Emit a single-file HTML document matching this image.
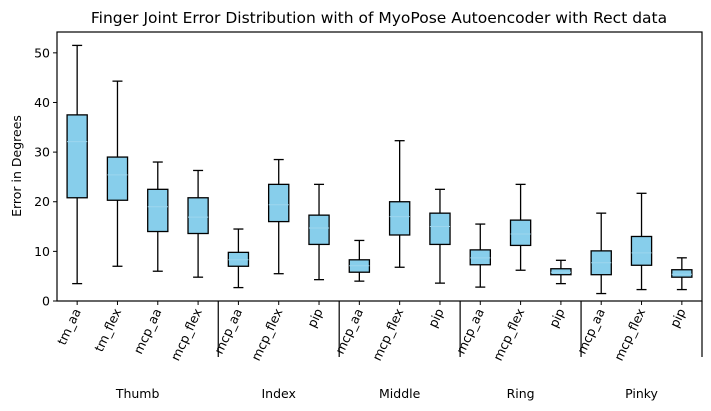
<!DOCTYPE html>
<html><head><meta charset="utf-8"><style>
body{margin:0;background:#fff;}
svg{display:block;font-family:"DejaVu Sans","Liberation Sans",sans-serif;}
</style></head><body>
<svg id="chart" width="711" height="411" viewBox="0 0 711 411"></svg>
<script>
const categories=["tm_aa","tm_flex","mcp_aa","mcp_flex","mcp_aa","mcp_flex","pip","mcp_aa","mcp_flex","pip","mcp_aa","mcp_flex","pip","mcp_aa","mcp_flex","pip"];
const whiskerLow=[3.5,7,6,4.8,2.7,5.5,4.3,4,6.8,3.6,2.8,6.2,3.5,1.5,2.3,2.3];
const q1=[20.8,20.3,14,13.6,7,16,11.4,5.8,13.3,11.4,7.3,11.2,5.3,5.3,7.2,4.8];
const medians=[32.1,25.4,19,16.9,8.3,19.4,14.7,7.1,17,15,8.7,13.5,5.8,7.7,9.7,5.4];
const q3=[37.5,29,22.5,20.8,9.8,23.5,17.3,8.3,20,17.7,10.3,16.3,6.5,10.1,13,6.3];
const whiskerHigh=[51.5,44.3,28,26.3,14.5,28.5,23.5,12.2,32.3,22.5,15.5,23.5,8.2,17.7,21.7,8.7];
const groups=["Thumb","Index","Middle","Ring","Pinky"];
const groupSizes=[4,3,3,3,3];
const yTicks=[0,10,20,30,40,50];

const svg=document.getElementById('chart');
const NS='http://www.w3.org/2000/svg';
const L=57,R=702,T=32,B=301;
const x=i=>L+(i+0.5)*(R-L)/categories.length;
const bw=(R-L)/categories.length*0.5;
const y=v=>B-(v/54.2)*(B-T);
function mk(tag,attrs){const e=document.createElementNS(NS,tag);for(const k in attrs)e.setAttribute(k,attrs[k]);svg.appendChild(e);return e;}

let t=mk('text',{x:379,y:23,'text-anchor':'middle','font-size':15.5,fill:'#000'});
t.textContent='Finger Joint Error Distribution with of MyoPose Autoencoder with Rect data';



t=mk('text',{transform:'translate(21,166) rotate(-90)','text-anchor':'middle','font-size':12.5});
t.textContent='Error in Degrees';



yTicks.forEach(v=>{
  const l=mk('line',{x1:L-4,x2:L,y1:y(v),y2:y(v),stroke:'#000','stroke-width':1});
  
  
  const tx=mk('text',{x:L-7,y:y(v)+4.5,'text-anchor':'end','font-size':12.5});
  tx.textContent=v;
  
  
});

categories.forEach((c,i)=>{
  const cx=x(i);
  const g=document.createElementNS(NS,'g');svg.appendChild(g);
  
  
  const add=(tag,a)=>{const e=document.createElementNS(NS,tag);for(const k in a)e.setAttribute(k,a[k]);g.appendChild(e);return e;};
  add('line',{x1:cx,x2:cx,y1:y(whiskerLow[i]),y2:y(q1[i]),stroke:'#000','stroke-width':1.3});
  add('line',{x1:cx,x2:cx,y1:y(q3[i]),y2:y(whiskerHigh[i]),stroke:'#000','stroke-width':1.3});
  add('line',{x1:cx-5,x2:cx+5,y1:y(whiskerLow[i]),y2:y(whiskerLow[i]),stroke:'#000','stroke-width':1.3});
  add('line',{x1:cx-5,x2:cx+5,y1:y(whiskerHigh[i]),y2:y(whiskerHigh[i]),stroke:'#000','stroke-width':1.3});
  add('rect',{x:cx-bw/2,y:y(q3[i]),width:bw,height:y(q1[i])-y(q3[i]),fill:'#87ceeb',stroke:'#000','stroke-width':1.3});
  add('line',{x1:cx-bw/2,x2:cx+bw/2,y1:y(medians[i]),y2:y(medians[i]),stroke:'#9dd6ee','stroke-width':1});
  const tk=mk('line',{x1:cx,x2:cx,y1:B,y2:B+4,stroke:'#000','stroke-width':1});
  
  
  const lb=mk('text',{transform:'translate('+(cx+4)+','+(B+10)+') rotate(-65)','text-anchor':'end','font-size':12.5});
  lb.textContent=c;
  
  
});

let start=0;
groups.forEach((gname,gi)=>{
  const end=start+groupSizes[gi];
  const sx=(x(start)+x(end-1))/2;
  const tx=mk('text',{x:sx,y:398,'text-anchor':'middle','font-size':12.5});
  tx.textContent=gname;
  
  
  const sepX=L+end*(R-L)/categories.length;
  const s=mk('line',{x1:sepX,x2:sepX,y1:B,y2:357,stroke:'#000','stroke-width':1.2});
  
  
  start=end;
});

const fr=mk('rect',{x:L,y:T,width:R-L,height:B-T,fill:'none',stroke:'#000','stroke-width':1.2});


</script>
</body></html>
